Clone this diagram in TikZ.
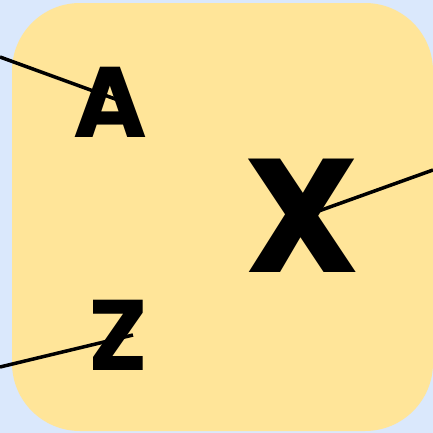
\documentclass[tikz,border=0pt]{standalone}
\usepackage{fontspec}
\setmainfont{Poppins}
\usetikzlibrary{calc,positioning}
\definecolor{paleblue}{HTML}{DAE8FC}
\definecolor{paleyellow}{HTML}{FFE599}
\pgfdeclarelayer{back}
\pgfdeclarelayer{mid}
\pgfsetlayers{back,mid,main}
\tikzset{
  letter/.style={inner sep=0pt, anchor=base, font=\bfseries},
  wire/.style={line width=2pt, black}
}
\begin{document}
\begin{tikzpicture}[x=0.02cm, y=-0.02cm]

% ---- canvas and panel ----
\useasboundingbox (0,0) rectangle (433,433);
\begin{pgfonlayer}{back}
\fill[paleblue] (0,0) rectangle (433,433);
\fill[paleyellow, rounded corners=1.36cm] (12,3) rectangle (433,431);
\end{pgfonlayer}

% ---- letters ----
\node[letter, font=\bfseries\fontsize{57}{60}\selectfont] (la) at (110,137) {A};
\node[letter, font=\bfseries\fontsize{92}{95}\selectfont] (lx) at (302,272) {X};
\node[letter, font=\bfseries\fontsize{57}{60}\selectfont] (lz) at (118,370) {Z};

% ---- free ends ----
\coordinate (ina) at (0,57);
\coordinate (outx) at (433,170);
\coordinate (inz) at (0,367);

% ---- wires behind the letters ----
\begin{pgfonlayer}{mid}
\draw[wire] (ina) -- ($(la.base)+(8,-37)$);
\draw[wire] (outx) -- ($(lx.base)+(0,-55)$);
\draw[wire] (inz) -- ($(lz.base)+(15,-35)$);
\end{pgfonlayer}

\end{tikzpicture}
\end{document}
